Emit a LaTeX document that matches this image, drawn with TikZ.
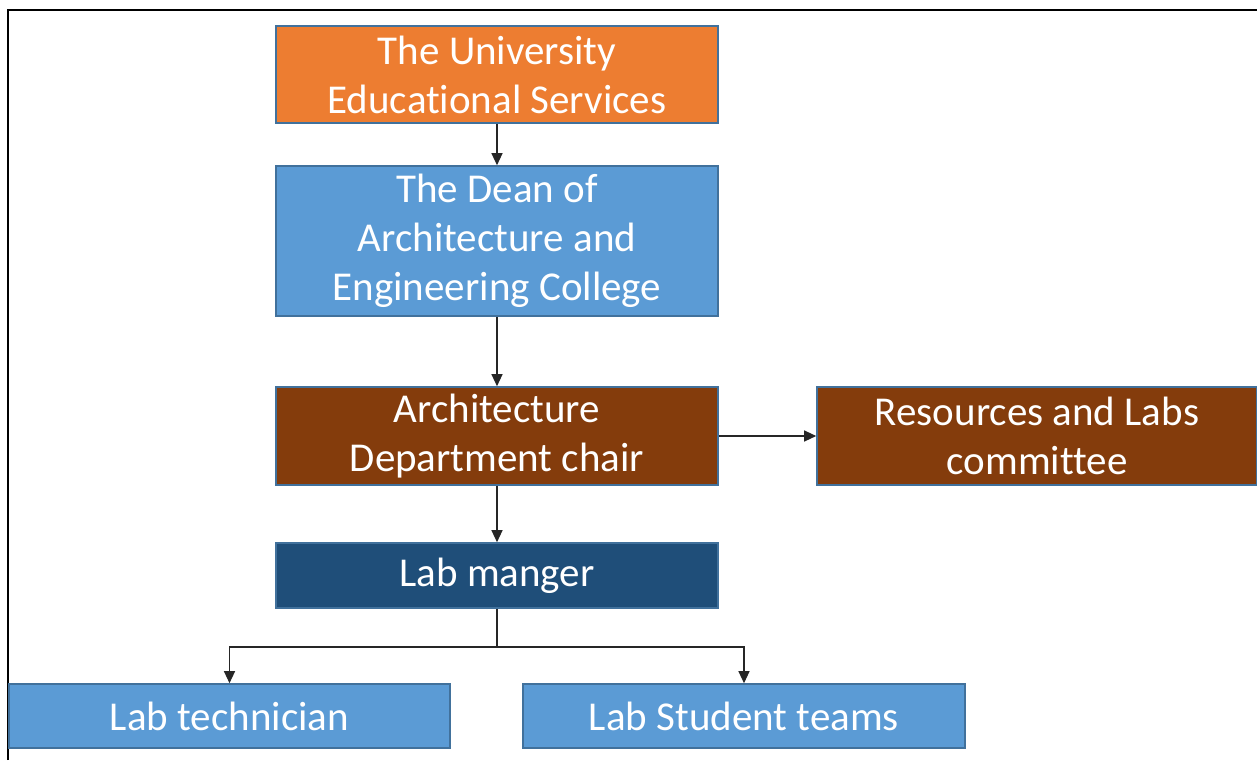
\documentclass[tikz,border=0pt]{standalone}
\usepackage{fontspec}
\setmainfont{Carlito}[Ligatures={NoCommon}]
\usetikzlibrary{arrows.meta}

\definecolor{orgbox}{HTML}{ED7D31}
\definecolor{bluebox}{HTML}{5B9BD5}
\definecolor{brownbox}{HTML}{843C0C}
\definecolor{navybox}{HTML}{1F4E79}
\definecolor{edgeblue}{HTML}{41719C}

\tikzset{
  unitbox/.style={draw=edgeblue, line width=0.8pt, text=white, align=center,
    inner sep=0pt, minimum width=221pt, font=\fontsize{20.5}{24.5}\selectfont},
  link/.style={line width=0.6pt, draw=black!85, -{Triangle[width=5.5pt,length=6pt]}}
}

\begin{document}
\begin{tikzpicture}[x=0.5pt, y=-0.5pt]
    \useasboundingbox (0,0) rectangle (1257,760);
    \def\midX{497}

    % frame
    \draw[line width=1pt] (8,760) -- (8,10) -- (1257,10);

    \node[unitbox, fill=orgbox, minimum height=48.5pt] (univ) at (\midX,74.5)
      {The University\\Educational Services};
    \node[unitbox, fill=bluebox, minimum height=75pt] (dean) at (\midX,241)
      {The Dean of\\Architecture and\\Engineering College};
    \node[unitbox, fill=brownbox, minimum height=49pt] (chair) at (\midX,436)
      {Architecture\\Department chair};
    \node[unitbox, fill=brownbox, minimum height=49pt, minimum width=220pt] (res) at (1037,436)
      {Resources and Labs\\committee};
    \node[unitbox, fill=navybox, minimum height=32.5pt] (manager) at (\midX,575.5)
      {Lab manger};
    \node[unitbox, fill=bluebox, minimum height=32pt, minimum width=220.5pt] (tech) at (229.5,716)
      {Lab technician};
    \node[unitbox, fill=bluebox, minimum height=32pt] (teams) at (744,716)
      {Lab Student teams};

    \coordinate (split) at (\midX,647);

    \draw[link] (univ) -- (dean);
    \draw[link] (dean) -- (chair);
    \draw[link] (chair) -- (res);
    \draw[link] (chair) -- (manager);
    \draw[line width=0.6pt, draw=black!85] (manager) -- (split);
    \draw[link] (split) -| (tech);
    \draw[link] (split) -| (teams);
\end{tikzpicture}
\end{document}
